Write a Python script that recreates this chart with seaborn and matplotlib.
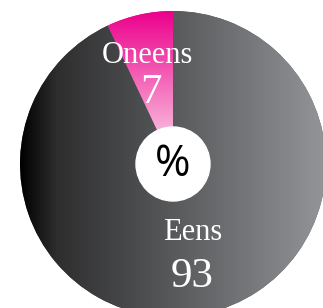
import numpy as np
import seaborn as sns
import matplotlib.pyplot as plt
from matplotlib.colors import LinearSegmentedColormap

labels = ["Eens", "Oneens"]
values = [93, 7]

sns.set_theme(style="white")

fig = plt.figure(figsize=(3.23, 3.08), dpi=100)
ax = fig.add_axes([0, 0, 1, 1])

cx, cy, r = 173, 144, 153
# Oneens goes first counterclockwise from 12 o'clock
wedges, _ = ax.pie(values[::-1], startangle=90, counterclock=True,
                   center=(cx, cy), radius=r, colors=["#ec008c", "#58595b"],
                   wedgeprops=dict(linewidth=0))
ax.set_xlim(0, 323)
ax.set_ylim(0, 308)
ax.set_aspect("equal")
ax.axis("off")

# grey gradient, left to right
grey = LinearSegmentedColormap.from_list(
    "grey", [(0, "#000000"), (0.12, "#2e2e2f"), (0.5, "#58595b"), (1, "#939598")])
grad = np.linspace(0, 1, 256).reshape(1, -1)
im = ax.imshow(grad, cmap=grey, extent=(cx - r, cx + r, cy - r, cy + r),
               aspect="auto", zorder=2)
im.set_clip_path(wedges[1])

# pink gradient, top to bottom
pink = LinearSegmentedColormap.from_list("pink", ["#f9b0d8", "#ec008c"])
vgrad = np.linspace(0, 1, 256).reshape(-1, 1)
im2 = ax.imshow(vgrad, cmap=pink, origin="lower",
                extent=(cx - r, cx + r, cy + 34, cy + r), aspect="auto", zorder=2)
im2.set_clip_path(wedges[0])

ax.add_patch(plt.Circle((cx, cy), 37, color="white", zorder=3))
ax.text(cx, cy - 1, "%", ha="center", va="center", fontsize=31,
        family="Open Sans", color="black", zorder=4)

serif = "Liberation Serif"
ax.text(147, 308 - 63, labels[1], ha="center", va="baseline", fontsize=22,
        family=serif, color="white", zorder=4)
ax.text(151, 308 - 103, str(values[1]), ha="center", va="baseline", fontsize=31,
        family=serif, color="white", zorder=4)
ax.text(193, 308 - 240, labels[0], ha="center", va="baseline", fontsize=22,
        family=serif, color="white", zorder=4)
ax.text(192, 308 - 287, str(values[0]), ha="center", va="baseline", fontsize=31,
        family=serif, color="white", zorder=4)

fig.savefig("out.png", dpi=100, facecolor="white")
